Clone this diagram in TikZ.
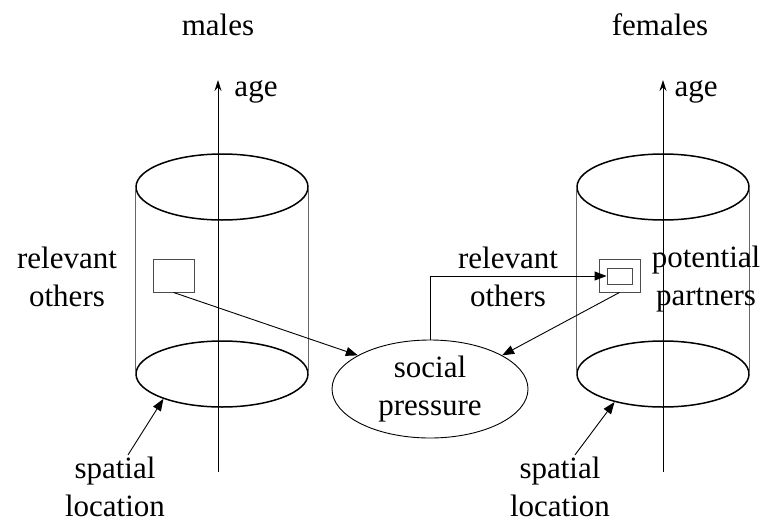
\documentclass[tikz,border=0pt]{standalone}
\usepackage{fontspec}
\setmainfont{Liberation Serif}
\usetikzlibrary{arrows.meta,positioning,shapes.geometric}

\begin{document}
\begin{tikzpicture}[
    x=1pt, y=-1pt,
    every node/.style={font=\fontsize{31}{38}\selectfont, align=center, inner sep=0pt},
    cyl/.style={ellipse, draw, line width=1.5pt, minimum width=172, minimum height=66},
    side/.style={draw=black!60, line width=0.9pt},
    bx/.style={rectangle, draw=black!70, line width=0.9pt},
    sp/.style={ellipse, draw, line width=0.9pt, minimum width=196, minimum height=98},
    ax/.style={line width=1pt, -{Stealth[length=11pt, width=7pt]}},
    e/.style={line width=0.9pt, -{Triangle[length=12pt, width=9pt]}},
  ]
  \useasboundingbox (0,0) rectangle (767,527);
  % males
  \node (males) at (218, 25) {males};
  \node[cyl] (topL) at (222, 187) {};
  \node[cyl] (botL) at (222, 374) {};
  \draw[side] (topL.west) -- (botL.west);
  \draw[side] (topL.east) -- (botL.east);
  \coordinate (axL0) at (218, 472);
  \coordinate (axL1) at (218, 80);
  \draw[ax] (axL0) -- (axL1);
  \node (ageL) at (256, 92) {age};
  \node[bx, minimum width=41, minimum height=33] (boxL) at (173.5, 275.5) {};
  \node (relL) at (67, 277) {relevant\\others};
  \node (spatL) at (115, 487) {spatial\\location};
  % females
  \node (females) at (660, 25) {females};
  \node[cyl] (topR) at (663, 187) {};
  \node[cyl] (botR) at (663, 374) {};
  \draw[side] (topR.west) -- (botR.west);
  \draw[side] (topR.east) -- (botR.east);
  \coordinate (axR0) at (663, 472);
  \coordinate (axR1) at (663, 80);
  \draw[ax] (axR0) -- (axR1);
  \node (ageR) at (696, 92) {age};
  \node[bx, minimum width=41, minimum height=33] (boxRo) at (619.5, 275.5) {};
  \node[bx, minimum width=25, minimum height=16] (boxRi) at (619.5, 276) {};
  \node (partR) at (706, 279) {potential\\partners};
  \node (relM) at (508, 277) {relevant\\others};
  \node (spatR) at (560, 487) {spatial\\location};
  % pressure
  \node[sp] (press) at (430, 389) {social\\pressure};
  \draw[e] (boxL.south) -- (press.155);
  \draw[e] (boxRo.south) -- (press.25);
  \draw[e] (press.north) |- (boxRi.west);
  \draw[e] (spatL.north) ++(13, -2) coordinate (spL) -- (botL.203);
  \draw[e] (spatR.north) ++(15, -2) coordinate (spR) -- (botR.210);
\end{tikzpicture}
\end{document}
